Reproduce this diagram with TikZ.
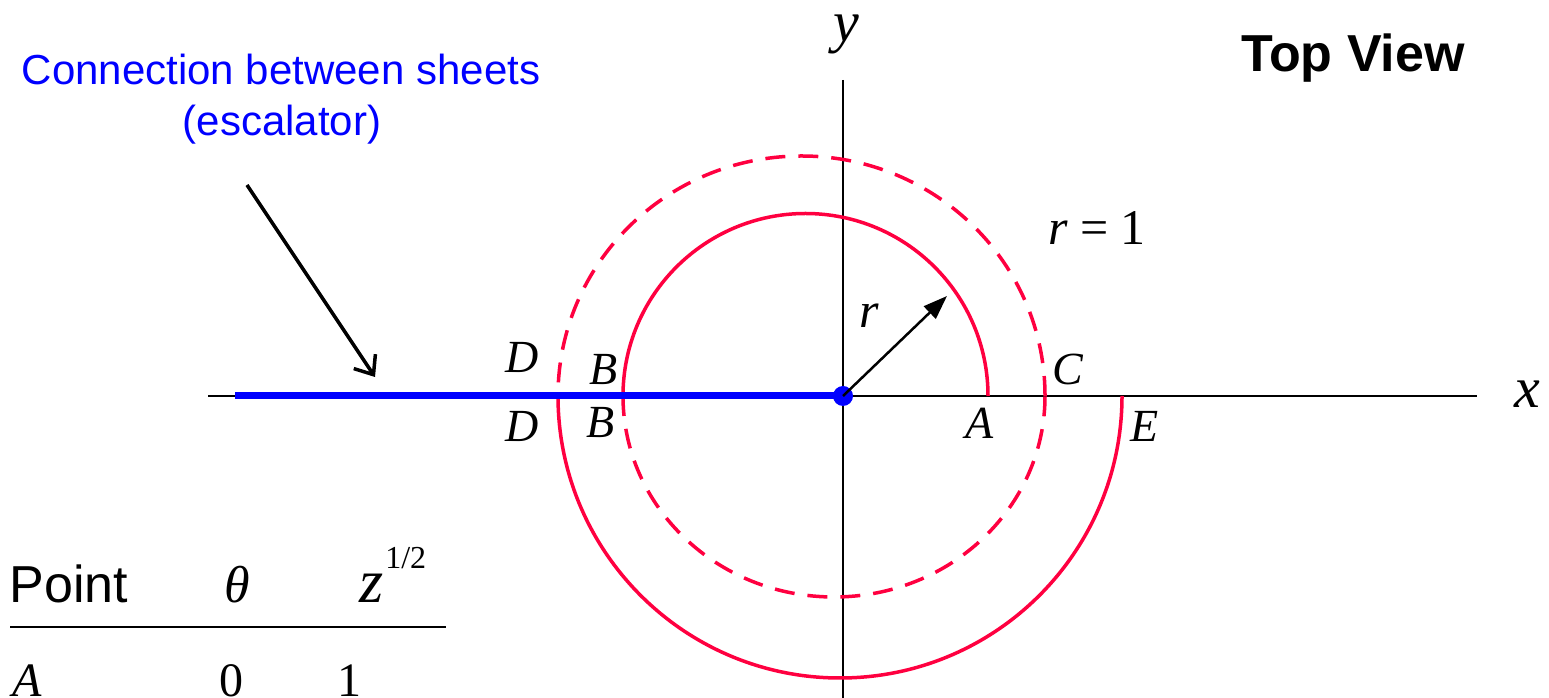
\documentclass[tikz,border=0pt]{standalone}
\usepackage{fontspec}
\setmainfont{Liberation Serif}
\setsansfont{Liberation Sans}
\usetikzlibrary{arrows.meta}
\definecolor{arcred}{RGB}{255,0,64}
\definecolor{escblue}{RGB}{0,0,255}
\begin{document}
\begin{tikzpicture}[x=1pt,y=1pt,
  lbl/.style={inner sep=0pt, anchor=base, font=\fontsize{46}{55}\selectfont\itshape},
  axislbl/.style={inner sep=0pt, anchor=base, font=\fontsize{58}{70}\selectfont\itshape},
  sanslbl/.style={inner sep=0pt, anchor=base, font=\fontsize{42}{50}\selectfont\sffamily},
  tablbl/.style={inner sep=0pt, anchor=base, font=\fontsize{48}{55}\selectfont},
  axisline/.style={line width=2.5pt, black},
  solidarc/.style={line width=3.5pt, arcred},
  dasharc/.style={line width=3.5pt, arcred, dash pattern=on 20pt off 13pt},
]
\useasboundingbox (0,0) rectangle (1549,698);
% coordinates
\coordinate (O) at (843,302);
\coordinate (xl) at (208,302);
\coordinate (xr) at (1477,302);
\coordinate (yt) at (843,618);
\coordinate (yb) at (843,-5);
\coordinate (bs) at (235,302);
% axes
\draw[axisline] (xl) -- (xr);
\draw[axisline] (yt) -- (yb);
% arcs
\draw[solidarc] (988,302) arc[start angle=0,end angle=180,radius=182.5];
\draw[dasharc] (1045,302) arc[start angle=0,end angle=180,x radius=243.5,y radius=240];
\draw[dasharc] (623,302) arc[start angle=180,end angle=360,x radius=211,y radius=201];
\draw[solidarc] (558,302) arc[start angle=180,end angle=360,x radius=282,y radius=282];
% blue branch cut
\draw[line width=7pt, escblue] (bs) -- (O);
\node[circle, fill=escblue, minimum size=20pt, inner sep=0pt] (dot) at (O) {};
% r arrow
\coordinate (rtip) at (947,402);
\draw[line width=2.5pt, -{Triangle[length=24pt,width=17pt]}] (O) -- (rtip);
% escalator arrow
\coordinate (escA) at (247,513);
\coordinate (escB) at (375,321);
\draw[line width=3.5pt, -{Straight Barb[length=16pt,width=26pt,line width=3.5pt]}] (escA) -- (escB);
% texts
\node[sanslbl, text=escblue] (conn1) at (281,613) {Connection between sheets};
\node[sanslbl, text=escblue] (conn2) at (282,562) {(escalator)};
\node[inner sep=0pt, anchor=base, font=\fontsize{52}{62}\selectfont\sffamily\bfseries] (topview) at (1353,626) {Top View};
\node[axislbl] (ylab) at (846,656) {y};
\node[axislbl] (xlab) at (1527,290) {x};
\node[inner sep=0pt, anchor=base, font=\fontsize{50}{60}\selectfont] (r1) at (1097,453) {\textit{r} = 1};
\node[lbl, font=\fontsize{50}{60}\selectfont\itshape] (rlab) at (869,370) {r};
\node[lbl] (Du) at (522,325) {D};
\node[lbl] (Dl) at (522,256) {D};
\node[lbl] (Bu) at (604,313) {B};
\node[lbl] (Bl) at (601,260) {B};
\node[lbl] (C) at (1068,313) {C};
\node[lbl] (A) at (980,259) {A};
\node[lbl] (E) at (1145,256) {E};
% table
\node[inner sep=0pt, anchor=base, font=\fontsize{52}{62}\selectfont\sffamily] (pt) at (69,95) {Point};
\node[lbl, font=\fontsize{52}{60}\selectfont\itshape] (th) at (237,95) {θ};
\node[inner sep=0pt, anchor=base west, font=\fontsize{62}{70}\selectfont] (zh) at (359,95) {\textit{z}\hspace{2pt}\raisebox{34pt}{\fontsize{32}{32}\selectfont 1/2}};
\coordinate (rl) at (10,71);
\coordinate (rr) at (446,71);
\draw[line width=2.5pt] (rl) -- (rr);
\node[lbl, font=\fontsize{48}{55}\selectfont\itshape] (tA) at (27,1) {A};
\node[tablbl] (t0) at (231,1) {0};
\node[tablbl] (t1) at (349,1) {1};
\end{tikzpicture}
\end{document}
